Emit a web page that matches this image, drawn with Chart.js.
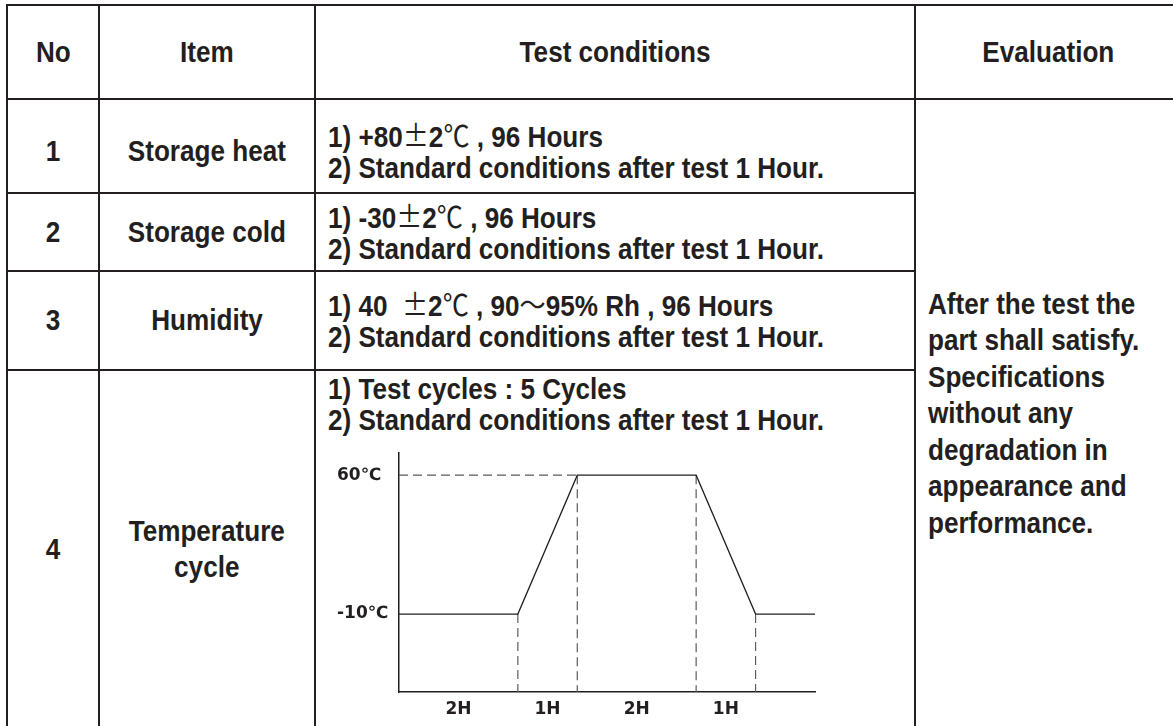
<!DOCTYPE html>
<html>
<head>
<meta charset="utf-8">
<title>Reliability test conditions</title>
<script src="https://cdn.jsdelivr.net/npm/chart.js@4.4.1/dist/chart.umd.min.js"></script>
<style>
  html, body { margin: 0; padding: 0; background: #fff; }
  body {
    width: 1173px; height: 726px; overflow: hidden; position: relative;
    font-family: "Liberation Sans Narrow", "Arial Narrow", "Liberation Sans", sans-serif;
    font-weight: bold; font-size: 29px; color: #231f20;
  }
  .cell {
    position: absolute; box-sizing: border-box; border: 2px solid #231f20;
    display: flex; align-items: center; justify-content: center; text-align: center;
  }
  /* condensed look of the original lettering */
  .t { display: inline-block; transform: scaleX(0.9); transform-origin: 50% 50%; white-space: nowrap; }
  .cond .t, .eval .t { transform-origin: 0 50%; }

  /* columns */
  .c0 { left: 6px; width: 94px; }
  .c1 { left: 98px; width: 218px; }
  .c2 { left: 314px; width: 602px; }
  .c3 { left: 914px; width: 268px; }
  /* rows */
  .rh { top: 4px; height: 96px; }
  .r1 { top: 98px; height: 96px; padding-top: 10px; }
  .r2 { top: 192px; height: 80px; }
  .r3 { top: 270px; height: 101px; }
  .r4 { top: 369px; height: 360px; }
  .rev { top: 98px; height: 631px; padding-top: 0; }

  .cond { justify-content: flex-start; text-align: left; padding-left: 12px; line-height: 31px; }
  .cond.top { align-items: flex-start; padding-top: 3px; }
  .item2 { line-height: 36px; }
  .eval { justify-content: flex-start; text-align: left; padding-left: 12px; line-height: 36.5px; }
  .s { font-family: "Noto Sans CJK SC", sans-serif; font-weight: normal; }

  #chartBox { position: absolute; left: 330px; top: 440px; }
</style>
</head>
<body>

<div class="cell c0 rh"><span class="t">No</span></div>
<div class="cell c1 rh"><span class="t">Item</span></div>
<div class="cell c2 rh"><span class="t">Test conditions</span></div>
<div class="cell c3 rh"><span class="t">Evaluation</span></div>

<div class="cell c0 r1"><span class="t">1</span></div>
<div class="cell c1 r1"><span class="t">Storage heat</span></div>
<div class="cell c2 r1 cond"><span class="t">1) +80<span class="s">±</span>2<span class="s">℃</span> , 96 Hours<br>2) Standard conditions after test 1 Hour.</span></div>

<div class="cell c0 r2"><span class="t">2</span></div>
<div class="cell c1 r2"><span class="t">Storage cold</span></div>
<div class="cell c2 r2 cond"><span class="t">1) -30<span class="s">±</span>2<span class="s">℃</span> , 96 Hours<br>2) Standard conditions after test 1 Hour.</span></div>

<div class="cell c0 r3"><span class="t">3</span></div>
<div class="cell c1 r3"><span class="t">Humidity</span></div>
<div class="cell c2 r3 cond"><span class="t">1) 40 &nbsp;<span class="s">±</span>2<span class="s">℃</span> , 90<span class="s">～</span>95% Rh , 96 Hours<br>2) Standard conditions after test 1 Hour.</span></div>

<div class="cell c0 r4"><span class="t">4</span></div>
<div class="cell c1 r4 item2"><span class="t">Temperature<br>cycle</span></div>
<div class="cell c2 r4 cond top"><span class="t">1) Test cycles : 5 Cycles<br>2) Standard conditions after test 1 Hour.</span></div>

<div class="cell c3 rev eval"><span class="t">After the test the<br>part shall satisfy.<br>Specifications<br>without any<br>degradation in<br>appearance and<br>performance.</span></div>

<div id="chartBox"><canvas id="cycleChart" width="490" height="282"></canvas></div>

<script>
// temperature cycle profile (hours from start, temperature in C)
const hours = [0, 2, 3, 5, 6, 7];
const temps = [-10, -10, 60, 60, -10, -10];
const tempTicks = [-10, 60];
const phaseLabels = ["2H", "1H", "2H", "1H"];

const Y_MIN = -49.3;
const Y_MAX = 71.1;
const INK = "#231f20";
const GUIDE = "#5a5a5a";

const profile = hours.map((h, i) => ({ x: h, y: temps[i] }));

// phase labels sit in the middle of each ramp / dwell
const phaseMid = phaseLabels.map((_, i) => (hours[i] + hours[i + 1]) / 2);

const guideStyle = {
  borderColor: GUIDE,
  borderWidth: 1.2,
  borderDash: [9, 5],
  pointRadius: 0,
  fill: false,
};

// dashed line at the high level, from the axis to the top of the ramp
const highGuide = {
  ...guideStyle,
  data: [
    { x: hours[0], y: temps[2] },
    { x: hours[2], y: temps[2] },
  ],
};

// dashed drop lines at each corner of the cycle
const drops = [1, 2, 3, 4].map((i) => ({
  ...guideStyle,
  data: [
    { x: hours[i], y: temps[i] },
    { x: hours[i], y: Y_MIN },
  ],
}));

new Chart(document.getElementById("cycleChart"), {
  type: "line",
  data: {
    datasets: [
      {
        data: profile,
        borderColor: INK,
        borderWidth: 1.3,
        pointRadius: 0,
        tension: 0,
        fill: false,
      },
      highGuide,
      ...drops,
    ],
  },
  options: {
    responsive: false,
    animation: false,
    layout: { padding: { left: 7, top: 13, right: 5, bottom: 0 } },
    plugins: { legend: { display: false }, tooltip: { enabled: false } },
    scales: {
      x: {
        type: "linear",
        min: hours[0],
        max: hours[hours.length - 1],
        grid: { display: false, drawTicks: false },
        border: { display: true, color: INK, width: 1.5 },
        afterBuildTicks: (scale) => {
          scale.ticks = phaseMid.map((v) => ({ value: v }));
        },
        afterFit: (scale) => {
          scale.height = 30;
        },
        ticks: {
          color: INK,
          font: { family: "DejaVu Sans", size: 17, weight: "bold" },
          padding: 7,
          maxRotation: 0,
          autoSkip: false,
          callback: (v, i) => phaseLabels[i],
        },
      },
      y: {
        min: Y_MIN,
        max: Y_MAX,
        grid: { display: false, drawTicks: false },
        border: { display: true, color: INK, width: 1.5 },
        afterBuildTicks: (scale) => {
          scale.ticks = tempTicks.map((v) => ({ value: v }));
        },
        afterFit: (scale) => {
          scale.width = 62;
        },
        ticks: {
          color: INK,
          font: { family: "DejaVu Sans", size: 17, weight: "bold" },
          crossAlign: "far",
          callback: (v) => v + "℃",
        },
      },
    },
  },
});
</script>
</body>
</html>
